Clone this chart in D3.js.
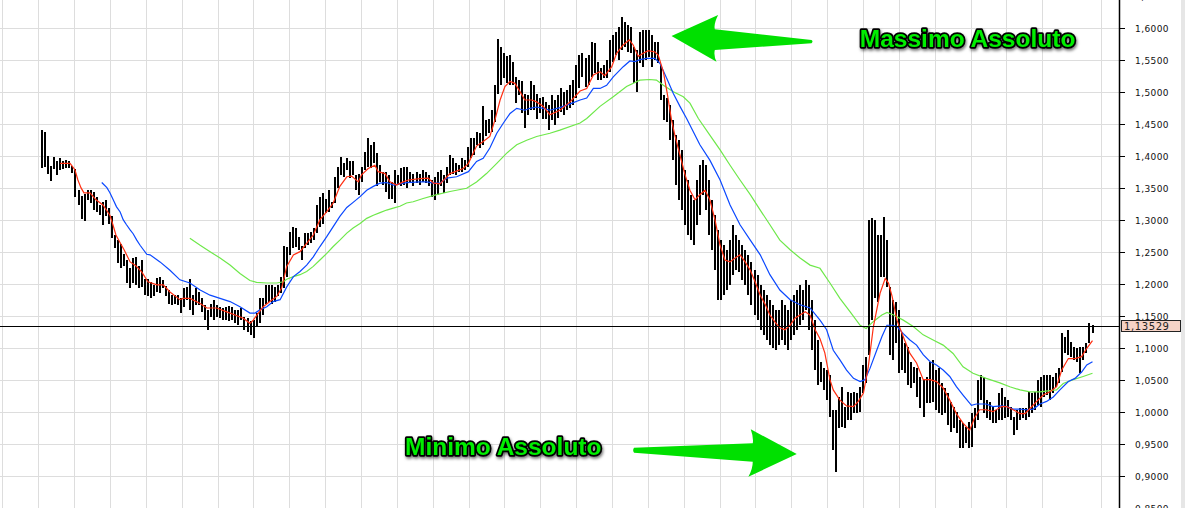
<!DOCTYPE html>
<html>
<head>
<meta charset="utf-8">
<script src="https://cdn.jsdelivr.net/npm/d3@7"></script>
<style>
  body { margin: 0; background: #fff; overflow: hidden; }
  svg { display: block; }
</style>
</head>
<body>
<div id="chart"></div>
<script>
/* CONSTANTS AND GLOBALS */
const width = 1185,
  height = 508,
  axisX = 1119;

/* DATA */
// bar highs / lows, one per period
const hi = [
  1.441,1.438,1.401,1.385,1.399,1.392,1.397,1.393,1.394,1.393,
  1.385,1.380,1.348,1.338,1.341,1.347,1.348,1.345,1.336,1.324,
  1.328,1.332,1.320,1.306,1.277,1.269,1.263,1.248,1.238,1.226,
  1.241,1.242,1.228,1.238,1.209,1.209,
  1.204,1.199,1.210,1.212,1.207,1.197,1.191,1.183,1.183,1.183,
  1.178,1.194,1.196,1.209,1.183,1.194,1.188,1.178,1.168,1.160,
  1.170,1.176,1.168,1.165,1.163,1.165,1.166,1.165,1.160,1.160,
  1.163,1.149,1.147,1.142,1.144,1.155,1.178,1.178,1.199,1.199,
  1.199,1.196,1.199,1.212,1.260,1.259,1.282,
  1.290,1.288,1.274,1.260,1.280,1.280,1.282,1.288,1.324,1.337,
  1.342,1.334,1.347,1.329,1.368,1.384,1.399,1.389,1.397,1.392,
  1.392,1.371,1.373,1.384,1.407,1.428,1.418,1.423,1.405,1.386,
  1.376,1.376,1.371,1.360,1.379,1.371,1.381,1.384,1.384,1.376,
  1.373,1.376,1.373,
  1.379,1.376,1.371,1.363,1.368,1.376,1.379,1.371,1.384,1.402,
  1.397,1.389,1.386,1.397,1.394,1.415,1.428,1.428,1.438,1.436,
  1.478,1.457,1.459,1.472,1.511,1.584,1.571,1.561,1.556,1.558,
  1.548,1.524,1.519,1.517,1.498,1.496,1.517,1.511,1.498,1.491,
  1.493,1.485,1.480,
  1.496,1.488,1.496,1.507,1.501,1.504,1.511,1.519,1.543,1.558,
  1.561,1.554,1.558,1.579,1.577,1.547,1.538,1.543,1.551,1.582,
  1.590,1.594,1.602,1.618,1.610,1.605,1.602,1.571,1.566,1.594,
  1.597,1.597,1.597,1.590,1.579,1.579,1.543,1.496,1.491,1.480,
  1.457,1.433,1.426,1.410,1.379,1.363,1.340,1.332,1.363,1.386,
  1.394,1.386,1.363,1.332,1.308,1.285,1.269,1.261,1.254,1.269,
  1.293,1.277,1.269,1.261,1.254,1.246,1.235,1.222,1.215,1.199,
  1.191,1.183,1.176,1.168,1.160,1.160,1.176,1.168,1.160,1.176,
  1.183,1.191,1.199,1.191,1.207,1.199,1.176,1.144,1.113,
  1.079,1.069,1.066,1.058,1.004,1.004,1.024,1.040,1.008,1.032,
  1.030,1.032,1.030,1.040,1.074,1.086,1.301,1.304,1.301,1.277,
  1.277,1.305,1.269,1.196,1.176,1.172,1.160,1.124,1.108,1.102,
  1.079,1.071,1.069,1.055,1.051,1.055,1.079,1.082,1.066,1.069,
  1.046,1.038,1.030,1.016,1.008,1.001,0.988,0.983,0.977,0.985,
  0.999,1.007,1.051,1.058,1.055,1.019,1.016,1.008,1.004,1.030,
  1.038,1.024,1.019,1.008,0.993,1.004,1.007,1.007,1.007,1.032,
  1.030,1.032,1.051,1.055,1.058,1.058,1.058,1.055,1.061,1.069,
  1.124,1.118,1.129,1.110,1.102,1.101,1.102,1.102,1.108,1.140,
  1.136
];
const lo = [
  1.381,1.384,1.373,1.362,1.380,1.371,1.378,1.380,1.381,1.381,
  1.374,1.336,1.324,1.302,1.299,1.332,1.327,1.316,1.313,1.308,
  1.293,1.306,1.295,1.273,1.256,1.233,1.226,1.228,1.202,1.194,
  1.202,1.199,1.194,1.196,1.183,1.182,
  1.178,1.182,1.188,1.186,1.194,1.181,1.170,1.168,1.170,1.168,
  1.155,1.165,1.176,1.160,1.152,1.168,1.168,1.157,1.144,1.129,
  1.149,1.144,1.149,1.147,1.144,1.144,1.142,1.144,1.139,1.136,
  1.144,1.129,1.126,1.121,1.116,1.134,1.139,1.152,1.170,1.173,
  1.170,1.173,1.181,1.186,1.194,1.211,1.246,
  1.256,1.259,1.254,1.238,1.256,1.261,1.264,1.269,1.280,1.290,
  1.295,1.311,1.313,1.319,1.327,1.350,1.371,1.368,1.379,1.366,
  1.371,1.347,1.340,1.360,1.379,1.384,1.381,1.389,1.353,1.360,
  1.355,1.345,1.334,1.334,1.327,1.355,1.353,1.355,1.350,1.358,
  1.353,1.358,1.355,
  1.360,1.358,1.353,1.337,1.332,1.340,1.353,1.342,1.358,1.371,
  1.373,1.371,1.376,1.376,1.379,1.384,1.397,1.402,1.418,1.413,
  1.418,1.431,1.436,1.438,1.454,1.498,1.511,1.522,1.514,1.511,
  1.511,1.483,1.496,1.467,1.444,1.465,1.472,1.472,1.459,1.467,
  1.459,1.459,1.441,
  1.457,1.449,1.460,1.469,1.465,1.472,1.476,1.480,1.491,1.507,
  1.524,1.508,1.511,1.524,1.530,1.519,1.519,1.522,1.522,1.532,
  1.547,1.558,1.551,1.566,1.571,1.563,1.561,1.515,1.501,1.546,
  1.540,1.551,1.555,1.540,1.551,1.546,1.488,1.457,1.454,1.426,
  1.394,1.355,1.332,1.316,1.293,1.277,1.269,1.261,1.293,1.308,
  1.340,1.316,1.277,1.254,1.222,1.176,1.176,1.183,1.191,1.199,
  1.215,1.222,1.219,1.207,1.199,1.183,1.168,1.152,1.144,1.129,
  1.121,1.113,1.105,1.101,1.097,1.105,1.113,1.105,1.097,1.113,
  1.121,1.129,1.136,1.144,1.160,1.129,1.097,1.066,1.043,
  1.048,1.035,1.019,0.993,0.941,0.907,0.976,0.977,0.976,0.988,
  0.988,0.999,0.999,1.001,1.030,1.046,1.090,1.144,1.179,1.172,
  1.211,1.211,1.196,1.090,1.082,1.108,1.061,1.066,1.061,1.043,
  1.038,1.046,1.024,1.007,0.993,1.015,1.015,1.016,1.004,0.999,
  0.996,0.999,0.980,0.969,0.976,0.968,0.944,0.944,0.952,0.944,
  0.946,0.976,0.988,1.019,0.999,0.991,0.988,0.983,0.983,0.988,
  0.988,0.991,0.993,0.988,0.965,0.972,0.988,0.991,0.988,0.993,
  0.999,1.004,1.011,1.008,1.024,1.027,1.019,1.030,1.040,1.046,
  1.063,1.093,1.090,1.086,1.082,1.079,1.061,1.082,1.093,1.108,
  1.124
];

// moving averages, [bar index, value]
const maRed = [
  [5.9,1.389],[9.2,1.389],[10.8,1.379],[11.8,1.363],[12.8,1.351],[13.8,1.343],[15.8,1.343],[17.8,1.332],[20.1,1.324],[22.4,1.308],
  [23.4,1.293],[24.4,1.277],[25.8,1.265],[27.1,1.254],[29.1,1.235],[31.0,1.229],[33.0,1.219],[35.0,1.204],[38.0,1.199],[40.1,1.199],
  [42.3,1.188],[45.6,1.176],[46.7,1.178],[48.9,1.178],[52.3,1.170],[54.5,1.163],[57.8,1.163],[61.1,1.157],[63.9,1.152],[66.6,1.147],
  [68.8,1.139],[69.9,1.144],[71.6,1.155],[73.2,1.165],[75.4,1.173],[77.7,1.181],[79.3,1.194],[81.0,1.228],[83.2,1.246],[85.4,1.251],
  [87.6,1.264],[89.8,1.277],[92.0,1.301],[94.2,1.313],[96.4,1.327],[98.6,1.353],[100.9,1.368],[102.5,1.369],[104.7,1.360],[105.8,1.371],
  [108.0,1.381],[110.2,1.386],[111.3,1.376],[113.6,1.373],[115.2,1.360],[117.4,1.355],[119.6,1.360],[121.3,1.363],[125.2,1.365],[127.9,1.366],
  [129.6,1.358],[131.8,1.357],[135.1,1.373],[139.5,1.381],[141.2,1.389],[143.9,1.416],[146.1,1.423],[148.3,1.431],[150.0,1.457],[151.7,1.488],
  [153.3,1.509],[155.0,1.517],[156.6,1.514],[158.3,1.501],[159.9,1.488],[162.2,1.488],[163.8,1.485],[166.0,1.478],[168.2,1.465],[171.5,1.472],
  [174.9,1.485],[178.2,1.502],[180.4,1.506],[182.6,1.527],[184.8,1.532],[186.4,1.526],[188.7,1.540],[190.3,1.561],[192.5,1.574],[194.5,1.582],
  [195.8,1.574],[197.5,1.556],[199.1,1.561],[200.8,1.565],[203.0,1.563],[204.1,1.558],[205.8,1.532],[207.1,1.498],[208.5,1.457],[209.6,1.433],
  [211.3,1.402],[213.0,1.371],[214.6,1.347],[216.3,1.332],[217.9,1.340],[219.6,1.347],[221.2,1.332],[222.9,1.301],[224.6,1.261],[226.2,1.238],
  [227.9,1.235],[229.6,1.241],[231.2,1.246],[232.9,1.235],[234.6,1.222],[236.2,1.204],[237.9,1.183],[239.6,1.168],[241.1,1.152],[242.8,1.141],
  [244.4,1.132],[246.1,1.129],[247.8,1.136],[249.4,1.147],[251.1,1.152],[252.8,1.157],[254.4,1.152],[256.1,1.129],[257.7,1.115],[259.3,1.093],
  [261.0,1.051],[262.1,1.035],[264.3,1.019],[266.5,1.010],[268.8,1.009],[270.4,1.017],[272.1,1.030],[273.7,1.071],[275.4,1.134],[277.6,1.186],
  [279.3,1.209],[280.4,1.202],[281.6,1.181],[283.2,1.144],[285.3,1.118],[287.5,1.092],[289.7,1.077],[291.9,1.051],[294.2,1.051],[296.3,1.048],
  [298.5,1.038],[300.7,1.019],[302.9,0.998],[305.1,0.983],[307.3,0.972],[308.9,0.991],[310.6,1.004],[312.8,1.004],[315.0,1.001],[317.9,1.009],
  [319.5,1.009],[321.7,1.004],[324.0,0.998],[325.6,0.998],[327.3,1.006],[329.5,1.017],[331.7,1.027],[333.9,1.032],[336.1,1.040],[337.8,1.066],
  [340.0,1.084],[342.2,1.084],[344.4,1.087],[346.1,1.100],[348.0,1.112]
];
const maBlue = [
  [19.7,1.359],[21.4,1.351],[22.4,1.343],[23.5,1.332],[24.6,1.321],[25.8,1.313],[26.8,1.301],[27.9,1.293],[29.1,1.285],[30.1,1.279],
  [31.3,1.269],[32.4,1.261],[33.5,1.254],[34.6,1.247],[35.7,1.246],[39.0,1.235],[42.3,1.222],[45.6,1.207],[48.9,1.202],[52.3,1.191],
  [55.6,1.183],[58.9,1.178],[62.2,1.173],[65.5,1.165],[68.8,1.155],[70.5,1.155],[72.1,1.160],[74.4,1.165],[76.5,1.173],[78.8,1.176],
  [81.0,1.196],[83.2,1.212],[85.4,1.220],[87.6,1.230],[89.8,1.243],[92.0,1.259],[94.2,1.274],[96.4,1.290],[98.6,1.306],[100.9,1.320],
  [103.0,1.328],[105.3,1.337],[107.5,1.347],[109.7,1.353],[111.9,1.358],[114.1,1.359],[116.3,1.355],[118.5,1.357],[120.7,1.359],[125.2,1.360],
  [127.4,1.360],[129.6,1.358],[131.8,1.358],[134.0,1.366],[137.3,1.368],[141.2,1.376],[143.9,1.392],[146.1,1.397],[148.3,1.413],[150.6,1.436],
  [152.8,1.452],[155.0,1.467],[157.2,1.475],[159.9,1.472],[161.6,1.475],[163.8,1.477],[166.0,1.475],[168.2,1.472],[171.5,1.476],[174.9,1.482],
  [178.2,1.488],[180.4,1.491],[182.6,1.506],[184.8,1.506],[187.0,1.511],[189.2,1.524],[192.5,1.540],[194.7,1.549],[196.4,1.548],[198.0,1.551],
  [200.2,1.553],[203.0,1.553],[204.7,1.545],[206.9,1.522],[209.1,1.498],[211.3,1.478],[213.5,1.459],[217.9,1.418],[221.2,1.394],[224.6,1.363],
  [227.9,1.324],[231.2,1.293],[234.6,1.269],[237.9,1.246],[241.1,1.215],[244.4,1.191],[247.8,1.176],[251.1,1.168],[254.4,1.163],[257.7,1.144],
  [259.9,1.129],[262.1,1.097],[264.3,1.082],[266.5,1.066],[268.8,1.053],[271.0,1.048],[272.6,1.051],[274.3,1.069],[276.5,1.097],[278.2,1.118],
  [279.9,1.136],[281.6,1.136],[283.2,1.134],[285.3,1.123],[287.5,1.113],[289.7,1.105],[291.9,1.090],[294.2,1.079],[296.3,1.074],[298.5,1.066],
  [300.7,1.056],[302.9,1.040],[305.1,1.027],[307.9,1.011],[309.5,1.013],[312.8,1.013],[315.0,1.009],[317.9,1.010],[319.5,1.009],[321.7,1.005],
  [324.0,1.005],[326.2,1.004],[328.4,1.005],[330.6,1.013],[332.8,1.017],[335.0,1.024],[337.2,1.035],[340.0,1.048],[342.2,1.053],[344.4,1.063],
  [346.1,1.074],[348.0,1.079]
];
const maGreen = [
  [48.9,1.272],[52.3,1.261],[55.6,1.251],[58.9,1.241],[62.2,1.230],[65.5,1.217],[68.8,1.206],[71.0,1.203],[74.4,1.202],[77.7,1.202],
  [79.9,1.204],[81.0,1.208],[83.2,1.212],[85.4,1.215],[87.6,1.220],[89.8,1.228],[92.0,1.238],[94.2,1.248],[96.4,1.259],[98.6,1.269],
  [100.9,1.280],[103.0,1.288],[105.3,1.295],[107.5,1.303],[109.7,1.308],[111.9,1.312],[114.1,1.316],[116.3,1.319],[118.5,1.322],[120.7,1.327],
  [122.9,1.329],[126.2,1.334],[130.7,1.340],[135.1,1.345],[140.6,1.350],[143.9,1.360],[147.2,1.373],[150.6,1.389],[153.9,1.405],[157.2,1.418],
  [160.5,1.425],[163.8,1.431],[168.2,1.436],[171.5,1.441],[178.2,1.452],[180.4,1.459],[184.8,1.478],[189.2,1.493],[193.6,1.509],[198.0,1.519],
  [201.3,1.520],[203.5,1.519],[205.8,1.511],[209.1,1.501],[212.4,1.493],[214.6,1.483],[217.4,1.459],[221.2,1.433],[224.6,1.410],[227.9,1.386],
  [231.2,1.363],[234.6,1.340],[237.9,1.316],[241.1,1.293],[244.4,1.269],[247.8,1.254],[251.1,1.241],[254.4,1.230],[257.7,1.225],[261.0,1.202],
  [264.3,1.178],[267.7,1.157],[271.0,1.136],[273.0,1.131],[275.4,1.142],[278.2,1.152],[279.9,1.156],[282.1,1.152],[285.3,1.144],[288.6,1.134],
  [291.9,1.121],[295.2,1.113],[298.5,1.105],[301.8,1.092],[305.1,1.071],[308.4,1.061],[312.8,1.053],[317.3,1.046],[320.6,1.040],[324.0,1.035],
  [327.3,1.032],[330.6,1.032],[333.9,1.034],[336.1,1.035],[338.3,1.045],[341.6,1.051],[344.9,1.056],[348.0,1.061]
];

const lastPrice = 1.13529;
const yTicks = [0.85, 0.90, 0.95, 1.00, 1.05, 1.10, 1.15, 1.20, 1.25, 1.30,
                1.35, 1.40, 1.45, 1.50, 1.55, 1.60, 1.65];

// annotations: label anchored at [bar index, price]
const notes = [
  { text: "Massimo Assoluto", at: [270.9, 1.5708], tip: [208.5, 1.5880], dir: "left" },
  { text: "Minimo Assoluto", at: [120.2, 0.9333], tip: [250.0, 0.9348], dir: "right" }
];

/* SCALES */
const x = d3.scaleLinear()
  .domain([0, hi.length - 1])
  .range([42.3, 1092.5]);

const y = d3.scaleLinear()
  .domain([0.85, 1.60])
  .range([508.3, 28.3]);

const fmt = v => d3.format(".4f")(v).replace(".", ",");

/* SVG */
const svg = d3.select("#chart")
  .append("svg")
  .attr("width", width)
  .attr("height", height);

const defs = svg.append("defs");
defs.append("filter")
  .attr("id", "shadow")
  .attr("x", "-10%").attr("y", "-40%").attr("width", "120%").attr("height", "180%")
  .append("feDropShadow")
  .attr("dx", 1).attr("dy", 2)
  .attr("stdDeviation", 1.6)
  .attr("flood-color", "#000")
  .attr("flood-opacity", 0.55);

// GRID
const grid = svg.append("g").attr("shape-rendering", "crispEdges");
grid.selectAll("line.h")
  .data(yTicks)
  .join("line")
  .attr("class", "h")
  .attr("x1", 0).attr("x2", axisX)
  .attr("y1", d => Math.round(y(d)) + 0.5)
  .attr("y2", d => Math.round(y(d)) + 0.5)
  .attr("stroke", "#dddddd");

// vertical grid: even spacing, last line sits nearer the axis
const gridX = d3.range(2.4, 1060, 35.86).concat([1100.7]);
grid.selectAll("line.v")
  .data(gridX)
  .join("line")
  .attr("class", "v")
  .attr("x1", d => Math.round(d) + 0.5).attr("x2", d => Math.round(d) + 0.5)
  .attr("y1", 0).attr("y2", height)
  .attr("stroke", "#dddddd");

// PRICE BARS
svg.append("g")
  .attr("shape-rendering", "crispEdges")
  .selectAll("rect")
  .data(hi.map((h, i) => ({ i, h, l: lo[i] })))
  .join("rect")
  .attr("x", d => Math.round(x(d.i)) - 1)
  .attr("width", 2)
  .attr("y", d => y(d.h))
  .attr("height", d => Math.max(1, y(d.l) - y(d.h)))
  .attr("fill", "#000");

// MOVING AVERAGES
const line = d3.line()
  .x(d => x(d[0]))
  .y(d => y(d[1]));

[[maGreen, "#6ee84a"], [maBlue, "#0a48ff"], [maRed, "#ff2f12"]].forEach(([data, color]) => {
  svg.append("path")
    .datum(data)
    .attr("d", line)
    .attr("fill", "none")
    .attr("stroke", color)
    .attr("stroke-width", 1.2);
});

// LAST PRICE LINE
svg.append("line")
  .attr("x1", 0).attr("x2", axisX)
  .attr("y1", Math.round(y(lastPrice)) + 0.5)
  .attr("y2", Math.round(y(lastPrice)) + 0.5)
  .attr("stroke", "#000")
  .attr("stroke-width", 1.2);

// RIGHT AXIS
svg.append("rect")
  .attr("x", 1181).attr("y", 0)
  .attr("width", 4).attr("height", height)
  .attr("fill", "#e6e6e6");

const yAxis = d3.axisRight(y)
  .tickValues(yTicks)
  .tickSize(6)
  .tickSizeOuter(0)
  .tickPadding(10)
  .tickFormat(fmt);

const axisG = svg.append("g")
  .attr("transform", `translate(${axisX}, 0)`)
  .call(yAxis);
axisG.select(".domain").remove();
axisG.selectAll(".tick line").attr("stroke", "#000").attr("shape-rendering", "crispEdges");
axisG.selectAll(".tick text")
  .attr("font-family", "DejaVu Sans, sans-serif")
  .attr("font-size", 9)
  .attr("letter-spacing", 0.4)
  .attr("fill", "#111");

svg.append("line")
  .attr("x1", axisX + 0.5).attr("x2", axisX + 0.5)
  .attr("y1", 0).attr("y2", height)
  .attr("stroke", "#000")
  .attr("stroke-width", 1.5);

// last price tag
const tagY = y(lastPrice);
svg.append("rect")
  .attr("x", axisX + 2.5).attr("y", Math.round(tagY) - 5.5)
  .attr("width", 59).attr("height", 11)
  .attr("fill", "#f6d3c6")
  .attr("stroke", "#222");
svg.append("text")
  .attr("x", axisX + 5).attr("y", tagY + 4)
  .attr("font-family", "DejaVu Sans, sans-serif")
  .attr("font-size", 10)
  .attr("letter-spacing", 0.6)
  .attr("fill", "#222")
  .text(d3.format(".5f")(lastPrice).replace(".", ","));

// ANNOTATIONS
const arrowLeft = "M0,0 L46.6,-21 Q42,-12 43.3,-6.7 L140,4 Q142,5.6 140,7.3 L43.3,14 Q42,20 45,25.7 Z";
const arrowRight = "M0,0 L-46,-24.7 Q-43,-16 -44,-10.7 L-162.7,-6.3 Q-164.5,-3.8 -162.7,-1.3 L-44,7.7 Q-44,15 -48.4,22.7 Z";

const noteG = svg.append("g");
noteG.selectAll("path")
  .data(notes)
  .join("path")
  .attr("transform", d => `translate(${x(d.tip[0])}, ${y(d.tip[1])})`)
  .attr("d", d => d.dir === "left" ? arrowLeft : arrowRight)
  .attr("fill", "#00e000");

noteG.selectAll("text")
  .data(notes)
  .join("text")
  .attr("x", d => x(d.at[0]))
  .attr("y", d => y(d.at[1]))
  .attr("font-family", "Liberation Sans, Arial, sans-serif")
  .attr("font-weight", "bold")
  .attr("font-size", 24.5)
  .attr("fill", "#00ee00")
  .attr("stroke", "#000")
  .attr("stroke-width", 3.5)
  .attr("stroke-linejoin", "round")
  .attr("paint-order", "stroke")
  .attr("filter", "url(#shadow)")
  .text(d => d.text);
</script>
</body>
</html>
